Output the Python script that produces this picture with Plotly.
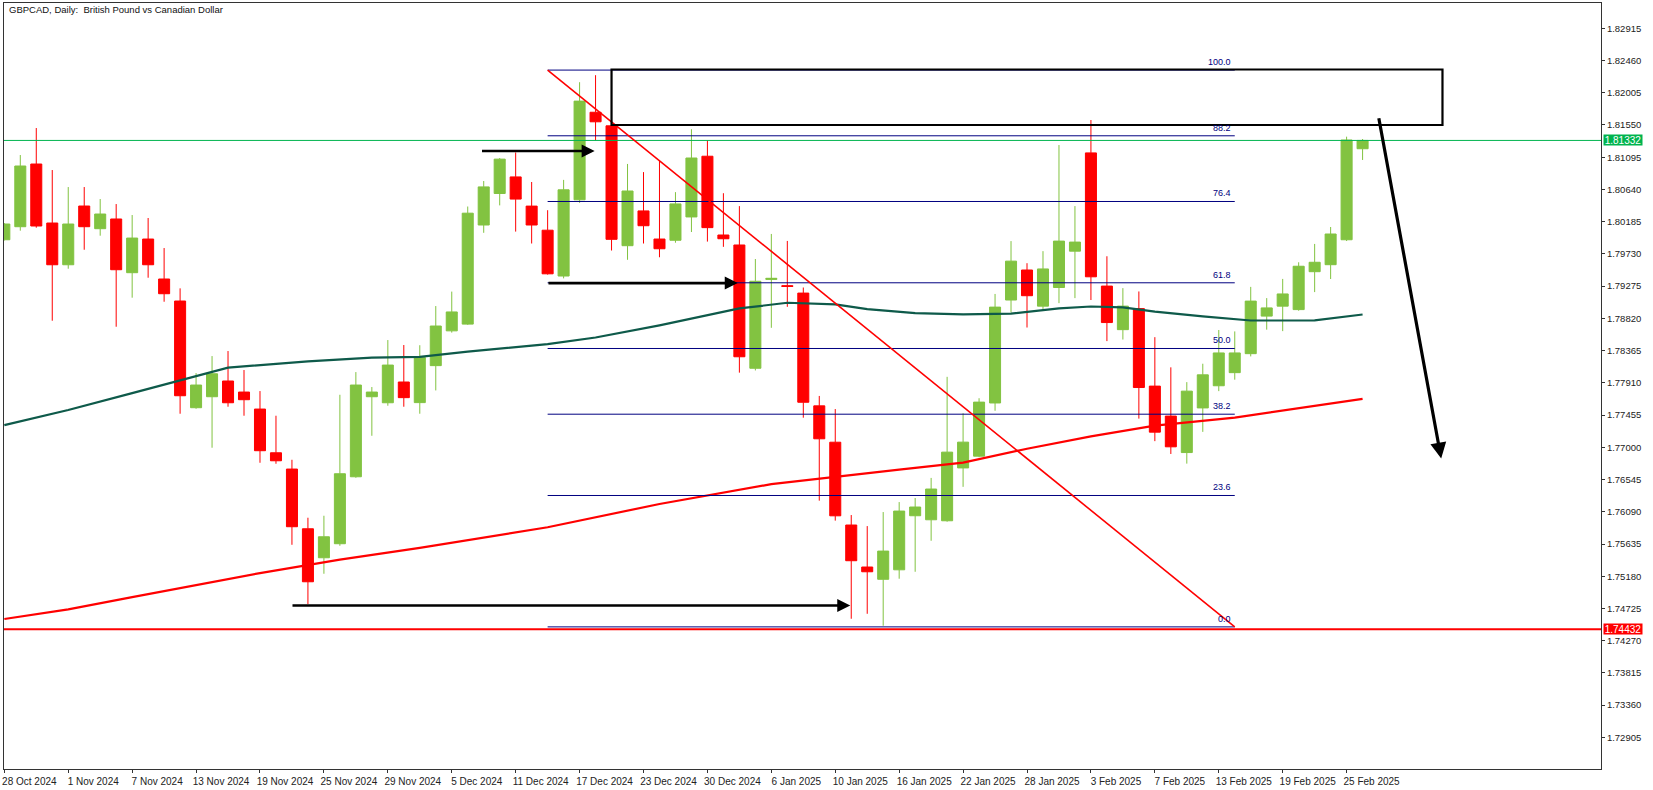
import plotly.graph_objects as go

# ---------------- data ----------------
bars = list(range(86))
opens = [1.79930, 1.80114, 1.80999, 1.80166, 1.79577, 1.80406, 1.80086, 1.80223, 1.79465, 1.79940,
         1.79376, 1.79065, 1.77559, 1.77714, 1.77936, 1.77780, 1.77540, 1.76923, 1.76693, 1.75850,
         1.75441, 1.75639, 1.76584, 1.77714, 1.77629, 1.77922, 1.77631, 1.78153, 1.78644, 1.78739,
         1.80138, 1.80583, 1.80817, 1.80405, 1.80065, 1.79418, 1.80494, 1.81730, 1.81538, 1.79846,
         1.80337, 1.79940, 1.79923, 1.80252, 1.81109, 1.79997, 1.79856, 1.78116, 1.79370, 1.79282,
         1.79177, 1.77585, 1.77072, 1.75903, 1.75310, 1.75137, 1.75271, 1.76034, 1.75977, 1.75963,
         1.76709, 1.76875, 1.77626, 1.79079, 1.79503, 1.78993, 1.79256, 1.79769, 1.81156, 1.79276,
         1.78661, 1.78958, 1.77864, 1.77441, 1.76926, 1.77556, 1.77869, 1.78054, 1.78322, 1.78852,
         1.78993, 1.78944, 1.79479, 1.79578, 1.79930, 1.81215]
highs = [1.80165, 1.81126, 1.81507, 1.80914, 1.80674, 1.80674, 1.80505, 1.80434, 1.80279, 1.80237,
         1.79813, 1.79244, 1.78048, 1.78288, 1.78359, 1.78091, 1.77794, 1.77446, 1.76824, 1.76006,
         1.76034, 1.77742, 1.78062, 1.77851, 1.78514, 1.78444, 1.78441, 1.78994, 1.79198, 1.80399,
         1.80759, 1.81084, 1.81162, 1.80745, 1.80347, 1.80775, 1.82154, 1.82253, 1.81554, 1.81000,
         1.80885, 1.81042, 1.80602, 1.81490, 1.81334, 1.80587, 1.80405, 1.79658, 1.80012, 1.79913,
         1.79256, 1.77725, 1.77540, 1.76044, 1.75888, 1.76086, 1.76227, 1.76284, 1.76568, 1.77995,
         1.77481, 1.77693, 1.79165, 1.79911, 1.79599, 1.79769, 1.81267, 1.80405, 1.81620, 1.79697,
         1.79247, 1.79200, 1.78555, 1.78129, 1.77920, 1.78180, 1.78656, 1.78636, 1.79265, 1.79106,
         1.79377, 1.79612, 1.79871, 1.80110, 1.81385, 1.81352]
lows = [1.79920, 1.80058, 1.80100, 1.78787, 1.79521, 1.79789, 1.79987, 1.78702, 1.79112, 1.79394,
        1.79055, 1.77474, 1.77544, 1.76994, 1.77573, 1.77446, 1.76782, 1.76768, 1.75624, 1.74787,
        1.75215, 1.75610, 1.76570, 1.77163, 1.77587, 1.77573, 1.77474, 1.77803, 1.78619, 1.78728,
        1.80028, 1.80415, 1.80045, 1.79877, 1.79438, 1.79385, 1.80451, 1.81334, 1.79778, 1.79647,
        1.79877, 1.79683, 1.79888, 1.80039, 1.79904, 1.79830, 1.78054, 1.78085, 1.78687, 1.78983,
        1.77418, 1.76247, 1.75965, 1.74580, 1.74650, 1.74481, 1.75145, 1.75243, 1.75681, 1.75950,
        1.76442, 1.76860, 1.77516, 1.78903, 1.78691, 1.78944, 1.79035, 1.79106, 1.79079, 1.78499,
        1.78521, 1.77405, 1.77087, 1.76906, 1.76770, 1.77218, 1.77793, 1.77955, 1.78283, 1.78661,
        1.78640, 1.78928, 1.79191, 1.79376, 1.79912, 1.81056]
closes = [1.80152, 1.80971, 1.80124, 1.79577, 1.80152, 1.80114, 1.80293, 1.79507, 1.79954, 1.79577,
          1.79168, 1.77728, 1.77879, 1.78038, 1.77629, 1.77672, 1.76952, 1.76810, 1.75879, 1.75102,
          1.75737, 1.76627, 1.77879, 1.77780, 1.78161, 1.77701, 1.78269, 1.78712, 1.78911, 1.80305,
          1.80676, 1.81068, 1.80504, 1.80138, 1.79449, 1.80635, 1.81887, 1.81595, 1.79936, 1.80618,
          1.80128, 1.79803, 1.80436, 1.81084, 1.80101, 1.79944, 1.78278, 1.79344, 1.79385, 1.79270,
          1.77636, 1.77120, 1.76033, 1.75399, 1.75243, 1.75535, 1.76100, 1.76157, 1.76411, 1.76932,
          1.77073, 1.77638, 1.78979, 1.79628, 1.79140, 1.79518, 1.79911, 1.79897, 1.79407, 1.78761,
          1.78993, 1.77844, 1.77214, 1.77007, 1.77793, 1.78023, 1.78332, 1.78332, 1.79064, 1.78968,
          1.79165, 1.79556, 1.79612, 1.80011, 1.81338, 1.81332]

ma_dark_bars = [0, 4, 8, 11, 14, 19, 23, 26, 29, 34, 37, 41, 46, 49, 52, 54, 57, 60, 63, 66, 68, 70, 72, 75, 78, 82, 85]
ma_dark_vals = [1.77314, 1.77526, 1.77765, 1.77950, 1.78125, 1.78212, 1.78265, 1.78278, 1.78352, 1.78456,
                1.78550, 1.78722, 1.78960, 1.79041, 1.79018, 1.78950, 1.78893, 1.78877, 1.78887, 1.78960,
                1.78988, 1.78975, 1.78915, 1.78848, 1.78790, 1.78791, 1.78875]
ma_red_bars = [0, 4, 8, 12, 16, 21, 26, 34, 41, 48, 53, 56, 60, 64, 68, 72, 77, 83, 85]
ma_red_vals = [1.74576, 1.74712, 1.74885, 1.75050, 1.75225, 1.75415, 1.75580, 1.75871, 1.76200, 1.76480,
               1.76612, 1.76686, 1.76785, 1.76980, 1.77155, 1.77305, 1.77420, 1.77616, 1.77683]

tick_bars = list(range(0, 85, 4))
tick_labels = ["28 Oct 2024", "1 Nov 2024", "7 Nov 2024", "13 Nov 2024", "19 Nov 2024", "25 Nov 2024",
               "29 Nov 2024", "5 Dec 2024", "11 Dec 2024", "17 Dec 2024", "23 Dec 2024", "30 Dec 2024",
               "6 Jan 2025", "10 Jan 2025", "16 Jan 2025", "22 Jan 2025", "28 Jan 2025", "3 Feb 2025",
               "7 Feb 2025", "13 Feb 2025", "19 Feb 2025", "25 Feb 2025"]
price_ticks = [1.82915, 1.82460, 1.82005, 1.81550, 1.81095, 1.80640, 1.80185, 1.79730, 1.79275, 1.78820,
               1.78365, 1.77910, 1.77455, 1.77000, 1.76545, 1.76090, 1.75635, 1.75180, 1.74725, 1.74270,
               1.73815, 1.73360, 1.72905]

current_price = 1.81332
support_price = 1.74432
fib_start_bar, fib_end_bar = 34, 77
fib_high, fib_low = 1.82325, 1.74465
fib_levels = [0.0, 23.6, 38.2, 50.0, 61.8, 76.4, 88.2, 100.0]
zone_bars = [38, 90]
zone_prices = [1.81550, 1.82333]
h_arrows = [  # (tail bar, head bar, price)
    (29.8, 36.94, 1.81183),
    (33.96, 45.9, 1.79318),
    (17.94, 52.94, 1.74768),
]
diag_arrow = (86.0, 1.81667, 89.92, 1.76841)  # tail bar, tail price, head bar, head price

# ---------------- figure ----------------
GREEN = "#82C341"
RED = "#FF0000"
NAVY = "#000080"
FONT = "Liberation Sans, Arial, sans-serif"

fig = go.Figure()
fig.add_trace(go.Candlestick(
    x=bars, open=opens, high=highs, low=lows, close=closes,
    increasing=dict(line=dict(color=GREEN, width=1), fillcolor=GREEN),
    decreasing=dict(line=dict(color=RED, width=1), fillcolor=RED),
    whiskerwidth=0, showlegend=False, hoverinfo="skip",
))
fig.add_trace(go.Scatter(x=ma_dark_bars, y=ma_dark_vals, mode="lines",
                         line=dict(color="#0E5A4A", width=2.2), showlegend=False, hoverinfo="skip"))
fig.add_trace(go.Scatter(x=ma_red_bars, y=ma_red_vals, mode="lines",
                         line=dict(color=RED, width=2.2), showlegend=False, hoverinfo="skip"))

shapes = []
shapes.append(dict(type="line", xref="paper", x0=0, x1=1, yref="y", y0=current_price, y1=current_price,
                   line=dict(color="#00B44E", width=1), layer="above"))
shapes.append(dict(type="line", xref="paper", x0=0, x1=1, yref="y", y0=support_price, y1=support_price,
                   line=dict(color=RED, width=2), layer="above"))
annotations = []
for lv in fib_levels:
    p = fib_low + (fib_high - fib_low) * lv / 100.0
    shapes.append(dict(type="line", xref="x", yref="y", x0=fib_start_bar, x1=fib_end_bar, y0=p, y1=p,
                       line=dict(color=NAVY, width=1), layer="above"))
    annotations.append(dict(x=fib_end_bar - 0.1, y=p, xref="x", yref="y", text=f"{lv:.1f}",
                            showarrow=False, xanchor="right", yanchor="bottom", yshift=1,
                            font=dict(family=FONT, size=9, color=NAVY)))
shapes.append(dict(type="line", xref="x", yref="y", x0=fib_start_bar, y0=fib_high, x1=fib_end_bar, y1=fib_low,
                   line=dict(color=RED, width=1.6), layer="above"))
shapes.append(dict(type="rect", xref="x", yref="y", x0=zone_bars[0], x1=zone_bars[1],
                   y0=zone_prices[0], y1=zone_prices[1], line=dict(color="black", width=2.2),
                   fillcolor="rgba(0,0,0,0)", layer="above"))

for tail, head, p in h_arrows:
    annotations.append(dict(x=head, y=p, ax=tail, ay=p, xref="x", yref="y", axref="x", ayref="y",
                            showarrow=True, arrowhead=2, arrowsize=1, arrowwidth=2.6,
                            arrowcolor="black", text=""))
annotations.append(dict(x=diag_arrow[2], y=diag_arrow[3], ax=diag_arrow[0], ay=diag_arrow[1],
                        xref="x", yref="y", axref="x", ayref="y", showarrow=True, arrowhead=2,
                        arrowsize=1, arrowwidth=3.2, arrowcolor="black", text=""))

annotations.append(dict(xref="paper", x=1, xanchor="left", xshift=2, yref="y", y=current_price,
                        text=f"{current_price:.5f}", showarrow=False, bgcolor="#00B44E",
                        font=dict(family=FONT, size=10, color="white"), width=38, height=10, borderpad=0))
annotations.append(dict(xref="paper", x=1, xanchor="left", xshift=2, yref="y", y=support_price,
                        text=f"{support_price:.5f}", showarrow=False, bgcolor=RED,
                        font=dict(family=FONT, size=10, color="white"), width=38, height=10, borderpad=0))
annotations.append(dict(xref="paper", yref="paper", x=0, y=1, xanchor="left", yanchor="top", xshift=3, yshift=1,
                        text="GBPCAD, Daily:  British Pound vs Canadian Dollar", showarrow=False,
                        font=dict(family=FONT, size=9.5, color="#111111")))

fig.update_layout(
    width=1653, height=790,
    margin=dict(l=2, r=52, t=3, b=21),
    paper_bgcolor="white", plot_bgcolor="white",
    shapes=shapes, annotations=annotations,
    boxgap=0.31, boxgroupgap=0,
    showlegend=False,
    font=dict(family=FONT, size=10, color="#222222"),
)
fig.update_xaxes(
    range=[-0.02, 99.92], rangeslider=dict(visible=False),
    tickmode="array", tickvals=tick_bars, ticktext=tick_labels,
    ticks="outside", ticklen=3, tickcolor="#333333", tickwidth=1,
    ticklabelshift=25, ticklabelstandoff=0,
    tickfont=dict(family=FONT, size=10, color="#222222"),
    showgrid=False, zeroline=False,
    showline=True, linecolor="#333333", linewidth=1, mirror=True,
)
fig.update_yaxes(
    range=[1.72459, 1.83272], side="right",
    tickmode="array", tickvals=price_ticks, ticktext=[f"{v:.5f}" for v in price_ticks],
    ticks="outside", ticklen=3, tickcolor="#333333", tickwidth=1,
    tickfont=dict(family=FONT, size=9.5, color="#222222"),
    showgrid=False, zeroline=False,
    showline=True, linecolor="#333333", linewidth=1, mirror=True,
)

fig.write_html("out.html", config={"displayModeBar": False},
               post_script="document.body.style.margin='0';document.body.style.overflow='hidden';")
